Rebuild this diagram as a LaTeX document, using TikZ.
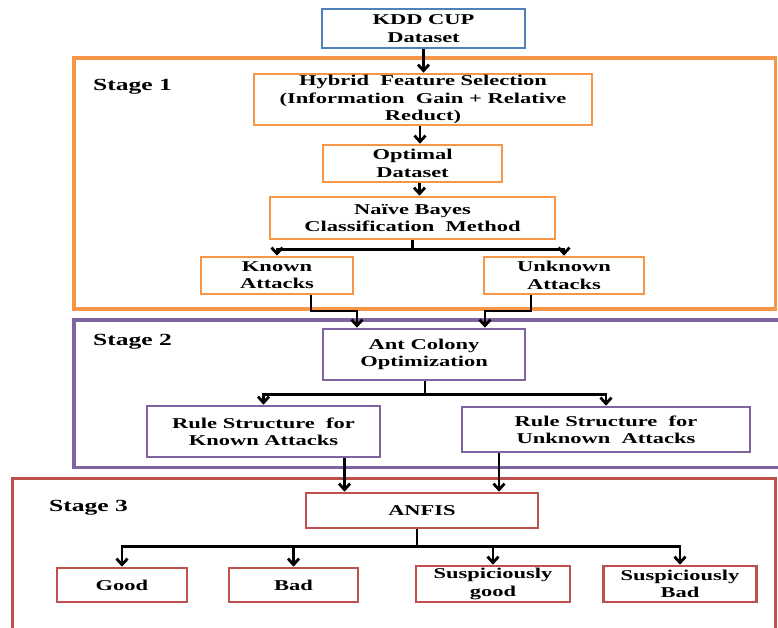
\documentclass[tikz,border=0pt]{standalone}
\usepackage{fontspec}
\setmainfont{Liberation Serif}[FakeStretch=1.5]
\usetikzlibrary{arrows.meta,calc}
\definecolor{cblue}{HTML}{4F81BD}
\definecolor{corange}{HTML}{F79646}
\definecolor{cpurple}{HTML}{8064A2}
\definecolor{cred}{HTML}{C0504D}
\begin{document}
\begin{tikzpicture}[x=1pt,y=-1pt,
  box/.style={draw=#1, line width=2.6pt, fill=white, text=black, align=center, inner sep=0pt,
    font=\fontsize{15}{17.3}\selectfont\bfseries},
  frame/.style={line width=3.4pt},
  stagelbl/.style={anchor=west, inner sep=0pt, font=\fontsize{17}{19}\selectfont\bfseries},
  arr/.style={line width=2.8pt, -{Straight Barb[length=6pt,width=11pt,line width=2.8pt]}},
  ln/.style={line width=2.8pt}]
\useasboundingbox (0,0) rectangle (778,628);
% stage frames
\draw[frame, draw=corange] (74,58) rectangle (775.5,309);
\draw[frame, draw=cpurple] (74,320) rectangle (784,467.5);
\draw[frame, draw=cred] (12.5,478.5) rectangle (775.5,640);
\node[stagelbl] (s1) at (93,87) {Stage 1};
\node[stagelbl] (s2) at (93,342) {Stage 2};
\node[stagelbl] (s3) at (49,508) {Stage 3};
% boxes
\node[box=cblue, minimum width=203pt, minimum height=39pt] (kdd) at (423.5,28.5) {KDD CUP\\Dataset};
\node[box=corange, minimum width=338pt, minimum height=51pt] (hyb) at (423,99.5) {Hybrid\ \ Feature Selection\\(Information\ \ Gain + Relative\\Reduct)};
\node[box=corange, minimum width=179pt, minimum height=37pt] (opt) at (412.5,163.5) {Optimal\\Dataset};
\node[box=corange, minimum width=285pt, minimum height=42pt] (nb) at (412.5,218) {Naïve Bayes\\Classification\ \ Method};
\node[box=corange, minimum width=152pt, minimum height=37pt] (known) at (277,275.5) {Known\\Attacks};
\node[box=corange, minimum width=160pt, minimum height=37pt] (unknown) at (564,275.5) {Unknown\\Attacks};
\node[box=cpurple, minimum width=202pt, minimum height=51pt] (aco) at (424,354.5) {Ant Colony\\Optimization};
\node[box=cpurple, minimum width=233pt, minimum height=51pt] (rk) at (263.5,431.5) {Rule Structure\ \ for\\Known Attacks};
\node[box=cpurple, minimum width=288pt, minimum height=45pt] (ru) at (606,429.5) {Rule Structure\ \ for\\Unknown\ \ Attacks};
\node[box=cred, minimum width=232pt, minimum height=35pt] (anfis) at (422,510.5) {ANFIS};
\node[box=cred, minimum width=130pt, minimum height=34pt] (good) at (122,585) {Good};
\node[box=cred, minimum width=129pt, minimum height=34pt] (bad) at (293.5,585) {Bad};
\node[box=cred, minimum width=154pt, minimum height=36pt] (sg) at (493,584) {Suspiciously\\good};
\node[box=cred, minimum width=153pt, minimum height=36pt] (sb) at (680,584) {Suspiciously\\Bad};
% connectors
\draw[arr] (kdd.south) -- (kdd.south |- hyb.north);
\draw[arr] ([xshift=-3pt]hyb.south) -- ([xshift=-3pt]hyb.south |- opt.north);
\draw[arr] ([xshift=7pt]opt.south) -- ([xshift=7pt]opt.south |- nb.north);
\coordinate (nbj) at ($(nb.south)+(0,9)$);
\draw[ln] (nb.south) -- (nbj);
\draw[arr] (nbj) -| (known.north);
\draw[arr] (nbj) -| (unknown.north);
\coordinate (kj) at (311,311);
\coordinate (uj) at (531,311);
\draw[arr] (known.south -| kj) -- (kj) -| ([xshift=-67pt]aco.north);
\draw[arr] (unknown.south -| uj) -- (uj) -| ([xshift=61pt]aco.north);
\coordinate (acoj) at ($(aco.south)+(1,13)$);
\draw[ln] (aco.south -| acoj) -- (acoj);
\draw[arr] (acoj) -| (rk.north);
\draw[arr] (acoj) -| (ru.north);
\draw[arr] ([xshift=81pt]rk.south) -- ([xshift=81pt]rk.south |- anfis.north);
\draw[arr] ([xshift=-107pt]ru.south) -- ([xshift=-107pt]ru.south |- anfis.north);
\coordinate (anj) at ($(anfis.south)+(-5,17)$);
\draw[ln] (anfis.south -| anj) -- (anj);
\draw[arr] (anj) -| (good.north);
\draw[arr] (anj) -| (bad.north);
\draw[arr] (anj) -| (sg.north);
\draw[arr] (anj) -| (sb.north);
\end{tikzpicture}
\end{document}
